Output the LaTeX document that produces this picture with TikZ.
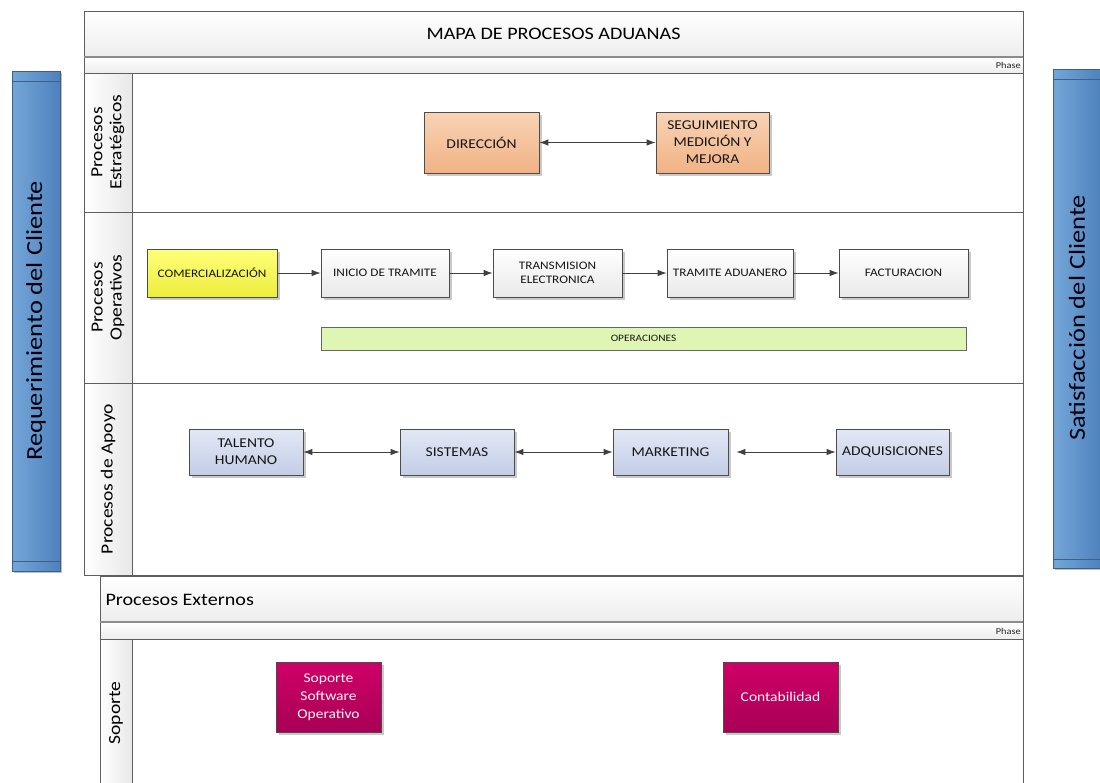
\documentclass[tikz,border=0pt]{standalone}
\usepackage{fontspec}
\setmainfont[FakeStretch=1.15]{Carlito}
\usetikzlibrary{arrows.meta,shadows}

\definecolor{poolline}{HTML}{5E5E5E}
\definecolor{bandbot}{HTML}{EDEDED}
\definecolor{laneR}{HTML}{E8E8E8}
\definecolor{barL}{HTML}{74A6D8}
\definecolor{barR}{HTML}{4E82BD}
\definecolor{barline}{HTML}{3E5F86}
\definecolor{orT}{HTML}{F8D3B6}
\definecolor{orB}{HTML}{F1B284}
\definecolor{gyT}{HTML}{FFFFFF}
\definecolor{gyB}{HTML}{E9E9E9}
\definecolor{yeT}{HTML}{FFFF7A}
\definecolor{yeB}{HTML}{EDED3C}
\definecolor{blT}{HTML}{E2E8F5}
\definecolor{blB}{HTML}{C3CDE6}
\definecolor{grn}{HTML}{DFF5B4}
\definecolor{mgT}{HTML}{D00068}
\definecolor{mgB}{HTML}{A80055}
\definecolor{txt}{HTML}{151515}
\definecolor{arr}{HTML}{404040}

\tikzset{
  box/.style={draw=black!70, line width=0.7pt, inner sep=2pt, align=center,
    text=txt, drop shadow={shadow xshift=2.5pt, shadow yshift=-2.5pt, fill=black!35, opacity=0.6}},
  strat/.style={box, top color=orT, bottom color=orB, minimum height=61pt, font=\fontsize{13.5}{17}\selectfont},
  oper/.style={box, top color=gyT, bottom color=gyB, minimum height=48pt, font=\fontsize{11.5}{14}\selectfont},
  apoyo/.style={box, top color=blT, bottom color=blB, minimum height=46pt, font=\fontsize{13.5}{17}\selectfont},
  soporte/.style={box, top color=mgT, bottom color=mgB, text=white!92!pink, minimum height=70pt, font=\fontsize{13.5}{18}\selectfont},
  lanelabel/.style={rotate=90, align=center, text=black, font=\fontsize{17}{19}\selectfont},
  barlabel/.style={rotate=90, text=black!95!blue, font=\fontsize{23}{26}\selectfont},
  phase/.style={anchor=east, text=black!85, font=\fontsize{9}{10}\selectfont, inner sep=1pt},
  link/.style={draw=arr, line width=0.9pt, -{Latex[length=9pt,width=6.5pt]}},
  dlink/.style={draw=arr, line width=0.9pt, {Latex[length=9pt,width=6.5pt]}-{Latex[length=9pt,width=6.5pt]}},
  poolframe/.style={draw=poolline, line width=0.9pt}
}

\begin{document}
\begin{tikzpicture}[x=1pt,y=-1pt]
\useasboundingbox[fill=white] (0,0) rectangle (1100,782);

% ---- side bars ----
\fill[black!25] (14,73) rectangle (62,573);
\shade[left color=barL, right color=barR] (12,71) rectangle (60,571);
\draw[barline, line width=0.8pt] (12,71) rectangle (60,571) (12,81) -- (60,81) (12,561) -- (60,561);
\node[barlabel] (req) at (36,321) {Requerimiento del Cliente};

\fill[black!25] (1055,71) rectangle (1103,570);
\shade[left color=barL, right color=barR] (1053,69) rectangle (1101,568);
\draw[barline, line width=0.8pt] (1053,69) rectangle (1101,568) (1053,79) -- (1101,79) (1053,559) -- (1101,559);
\node[barlabel] (sat) at (1077,318) {Satisfacción del Cliente};

% ---- main pool ----
\shade[top color=white, bottom color=bandbot] (84,11) rectangle (1023,57);
\shade[top color=white, bottom color=bandbot] (84,57) rectangle (1023,73);
\shade[left color=white, right color=laneR] (84,73) rectangle (132,575);
\draw[poolframe] (84,11) rectangle (1023,575);
\draw[draw=black!45, line width=1.1pt] (84,57) -- (1023,57);
\draw[poolframe] (84,73) -- (1023,73) (132,73) -- (132,575)
  (84,212) -- (1023,212) (84,383) -- (1023,383);
\node[font=\fontsize{17.5}{20}\selectfont, text=black] (titulo) at (553.5,34) {MAPA DE PROCESOS ADUANAS};
\node[phase] (ph1) at (1022,65.5) {Phase};

\node[lanelabel] (l1) at (108,142.5) {Procesos\\Estratégicos};
\node[lanelabel] (l2) at (108,297.5) {Procesos\\Operativos};
\node[lanelabel] (l3) at (108,479) {Procesos de Apoyo};

% ---- external pool ----
\shade[top color=white, bottom color=bandbot] (100,576) rectangle (1023,622);
\shade[top color=white, bottom color=bandbot] (100,622) rectangle (1023,639);
\shade[left color=white, right color=laneR] (100,639) rectangle (132,800);
\draw[poolframe] (100,800) -- (100,576) -- (1023,576) -- (1023,800);
\draw[draw=black!45, line width=1.1pt] (100,622) -- (1023,622);
\draw[poolframe] (100,639) -- (1023,639) (132,639) -- (132,800);
\node[anchor=west, font=\fontsize{17.5}{20}\selectfont, text=black] (ext) at (102,600) {Procesos Externos};
\node[phase] (ph2) at (1022,631) {Phase};
\node[lanelabel] (l4) at (116,713) {Soporte};

% ---- strategic processes ----
\node[strat, minimum width=115pt] (dir) at (481.5,142.5) {DIRECCIÓN};
\node[strat, minimum width=113pt] (seg) at (712.5,142.5) {SEGUIMIENTO\\MEDICIÓN Y\\MEJORA};
\draw[dlink] (dir) -- (seg);

% ---- operative processes ----
\node[oper, top color=yeT, bottom color=yeB, minimum width=130pt] (com) at (212,273) {COMERCIALIZACIÓN};
\node[oper, minimum width=128pt] (ini) at (385,273) {INICIO DE TRAMITE};
\node[oper, minimum width=129pt] (tra) at (557.5,273) {TRANSMISION\\ELECTRONICA};
\node[oper, minimum width=126pt] (adu) at (730,273) {TRAMITE ADUANERO};
\node[oper, minimum width=129pt] (fac) at (903.5,273) {FACTURACION};
\draw[link] (com) -- (ini);
\draw[link] (ini) -- (tra);
\draw[link] (tra) -- (adu);
\draw[link] (adu) -- (fac);
\node[draw=black!60, line width=0.6pt, fill=grn, minimum width=645pt, minimum height=23pt,
  inner sep=0pt, text=txt, font=\fontsize{9.8}{11}\selectfont] (ops) at (643.5,338.5) {OPERACIONES};

% ---- support processes ----
\node[apoyo, minimum width=114pt] (tal) at (246,452) {TALENTO\\HUMANO};
\node[apoyo, minimum width=114pt] (sis) at (457,452) {SISTEMAS};
\node[apoyo, minimum width=115pt] (mkt) at (670.5,452) {MARKETING};
\node[apoyo, minimum width=113pt] (adq) at (892.5,452) {ADQUISICIONES};
\draw[dlink] (tal) -- (sis);
\draw[dlink] (sis) -- (mkt);
\draw[dlink, shorten <=8pt] (mkt) -- (adq);

% ---- external support ----
\node[soporte, minimum width=105pt] (sso) at (328.5,697) {Soporte\\Software\\Operativo};
\node[soporte, minimum width=115pt] (cont) at (780.5,697) {Contabilidad};
\end{tikzpicture}
\end{document}
